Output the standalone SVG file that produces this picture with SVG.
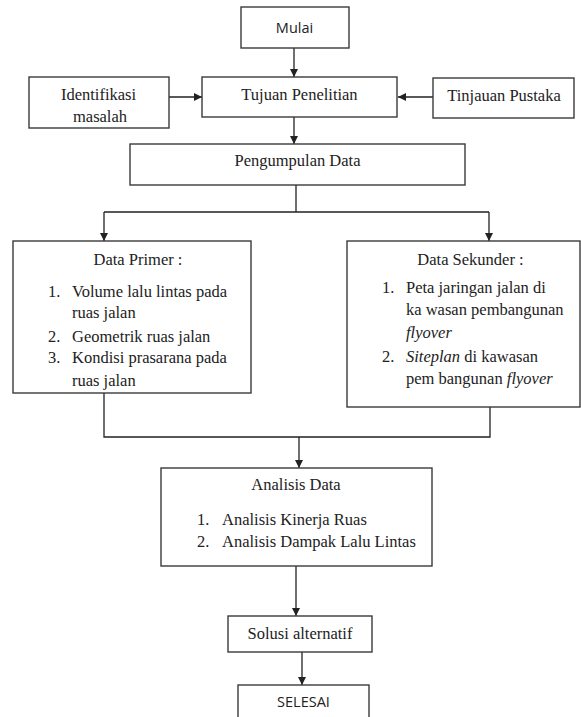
<svg xmlns="http://www.w3.org/2000/svg" width="581" height="717" viewBox="0 0 581 717">
<defs>
<marker id="ah" markerUnits="userSpaceOnUse" markerWidth="8" markerHeight="9" refX="8" refY="4.5" orient="auto">
<path d="M0,0.5 L8,4.5 L0,8.5 z" fill="#222"/>
</marker>
<style>
.box{fill:#fff;stroke:#3a3a3a;stroke-width:1.4}
.ln{fill:none;stroke:#222;stroke-width:1.3}
.ar{fill:none;stroke:#222;stroke-width:1.3;marker-end:url(#ah)}
.s{font-family:"Liberation Serif","DejaVu Serif",serif;font-size:16.5px;fill:#222}
.c{text-anchor:middle}
.sans{font-family:"Open Sans","Liberation Sans",sans-serif;font-size:14.5px;fill:#222}
</style>
</defs>
<rect width="581" height="717" fill="#fff"/>
<g id="connectors">
<path class="ar" d="M294,48 V77"/>
<path class="ar" d="M169,97 H202"/>
<path class="ar" d="M433,97 H398"/>
<path class="ar" d="M294,117 V144"/>
<path class="ln" d="M296,185 V212 M104,212 H489"/>
<path class="ar" d="M104,212 V241"/>
<path class="ar" d="M489,212 V241"/>
<path class="ln" d="M104,393 V437 H490 V407"/>
<path class="ar" d="M299,437 V468"/>
<path class="ar" d="M296,566 V616"/>
<path class="ar" d="M302,652 V685"/>
</g>
<g id="mulai">
<rect class="box" x="241" y="7" width="108" height="41"/>
<text class="sans c" x="294.5" y="33">Mulai</text>
</g>
<g id="identifikasi">
<rect class="box" x="29" y="77" width="140" height="51"/>
<text class="s c" x="98.5" y="99.5">Identifikasi</text>
<text class="s c" x="100" y="122">masalah</text>
</g>
<g id="tujuan">
<rect class="box" x="202" y="77" width="195" height="40"/>
<text class="s c" x="299.5" y="100">Tujuan Penelitian</text>
</g>
<g id="tinjauan">
<rect class="box" x="433" y="78" width="141" height="40"/>
<text class="s c" x="504" y="101">Tinjauan Pustaka</text>
</g>
<g id="pengumpulan">
<rect class="box" x="130" y="144" width="335" height="41"/>
<text class="s c" x="297.5" y="166">Pengumpulan Data</text>
</g>
<g id="primer">
<rect class="box" x="13" y="241" width="238" height="152"/>
<text class="s c" x="138" y="265">Data Primer :</text>
<text class="s" x="48" y="297">1.</text><text class="s" x="72" y="297">Volume lalu lintas pada</text>
<text class="s" x="72" y="318">ruas jalan</text>
<text class="s" x="48" y="342">2.</text><text class="s" x="72" y="342">Geometrik ruas jalan</text>
<text class="s" x="48" y="363">3.</text><text class="s" x="72" y="363">Kondisi prasarana pada</text>
<text class="s" x="72" y="386">ruas jalan</text>
</g>
<g id="sekunder">
<rect class="box" x="347" y="241" width="233" height="166"/>
<text class="s c" x="470.5" y="265">Data Sekunder :</text>
<text class="s" x="382" y="293">1.</text><text class="s" x="406" y="293">Peta jaringan jalan di</text>
<text class="s" x="406" y="315">ka wasan pembangunan</text>
<text class="s" x="406" y="338" font-style="italic">flyover</text>
<text class="s" x="382" y="362">2.</text><text class="s" x="406" y="362"><tspan font-style="italic">Siteplan</tspan> di kawasan</text>
<text class="s" x="406" y="384">pem bangunan <tspan font-style="italic">flyover</tspan></text>
</g>
<g id="analisis">
<rect class="box" x="161" y="468" width="271" height="98"/>
<text class="s c" x="296" y="490">Analisis Data</text>
<text class="s" x="197" y="525">1.</text><text class="s" x="222" y="525">Analisis Kinerja Ruas</text>
<text class="s" x="197" y="547">2.</text><text class="s" x="222" y="547">Analisis Dampak Lalu Lintas</text>
</g>
<g id="solusi">
<rect class="box" x="228" y="616" width="144" height="36"/>
<text class="s c" x="300" y="639">Solusi alternatif</text>
</g>
<g id="selesai">
<rect class="box" x="238" y="685" width="131" height="45"/>
<text class="sans c" x="303.5" y="707">SELESAI</text>
</g>
</svg>
